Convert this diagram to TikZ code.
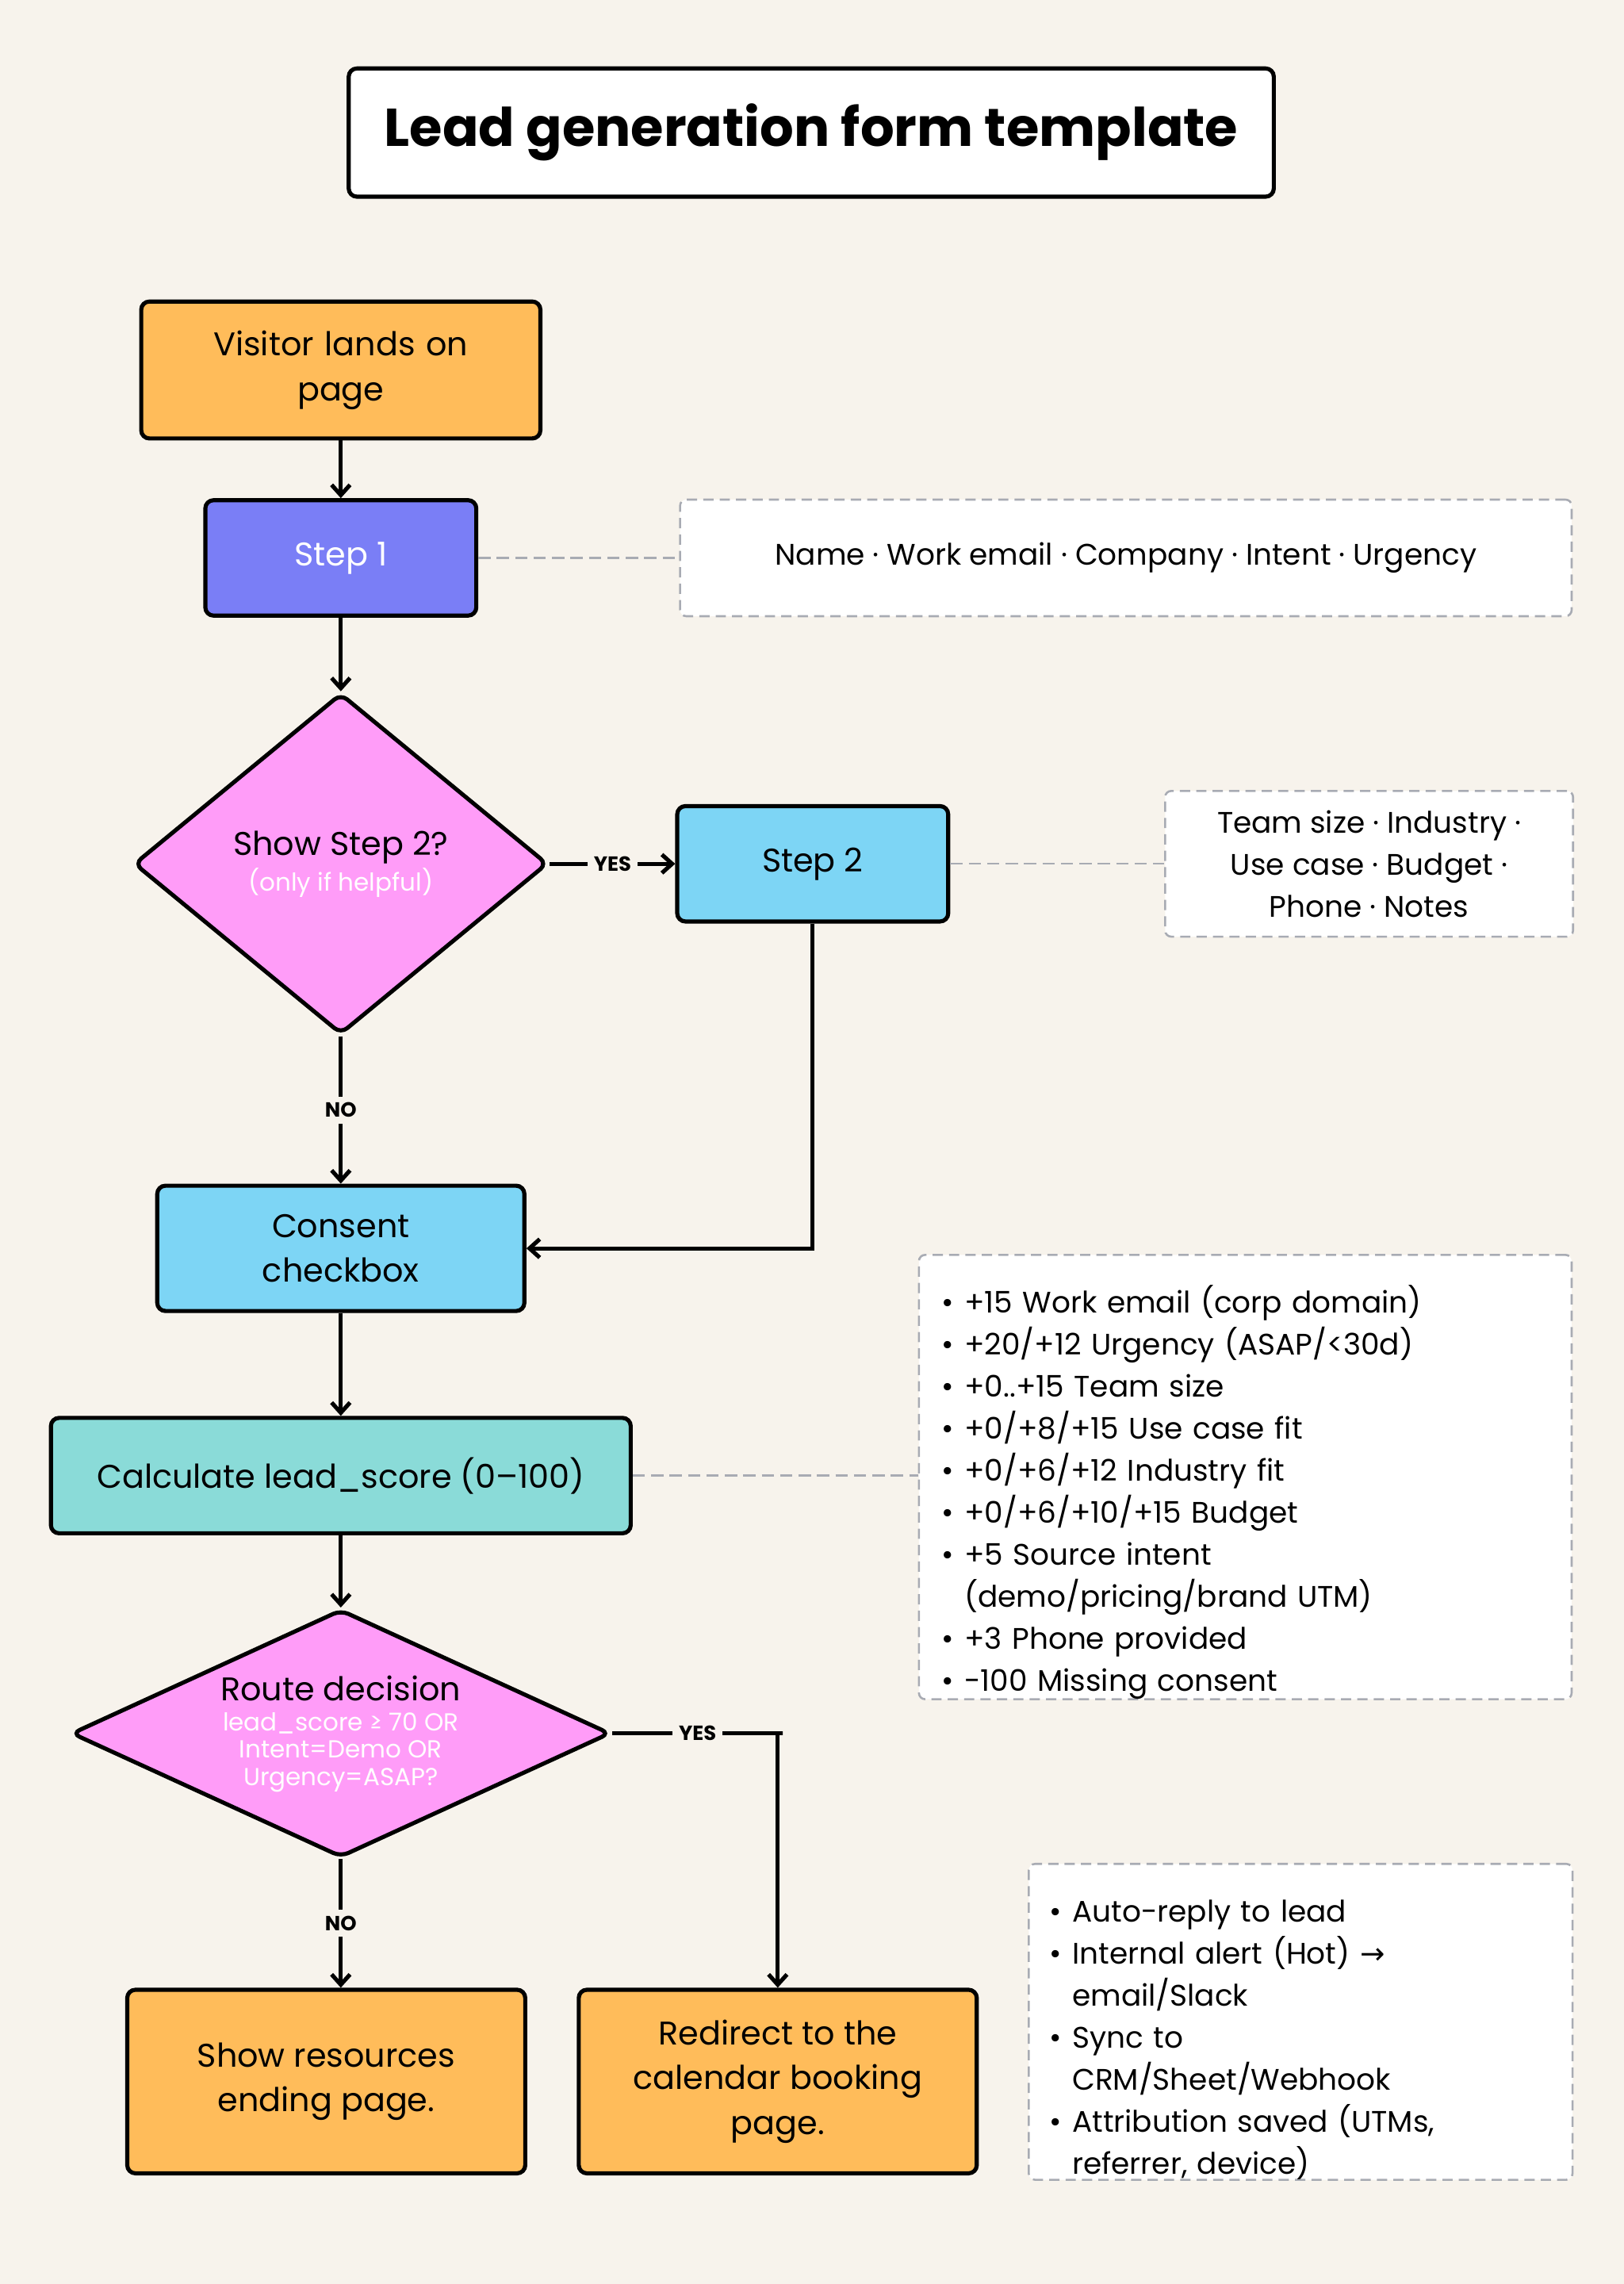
\documentclass[tikz,border=0pt]{standalone}
\usepackage{fontspec}
\setmainfont{Poppins}
\usetikzlibrary{arrows.meta,shapes.geometric,positioning}
\definecolor{paper}{HTML}{F7F3EC}
\definecolor{orangebox}{HTML}{FFBC5A}
\definecolor{purplebox}{HTML}{7A7EF6}
\definecolor{bluebox}{HTML}{7DD5F5}
\definecolor{tealbox}{HTML}{8ADBD8}
\definecolor{pinkbox}{HTML}{FF9CF8}
\definecolor{notegray}{HTML}{A8ABB3}
\setlength{\leftmargini}{0.8em}
\setlength{\itemsep}{0pt}
\newcommand{\bodyfont}{\fontsize{16}{22}\selectfont}
\newcommand{\notefont}{\fontsize{14.5}{20.5}\selectfont}
\begin{document}
\begin{tikzpicture}[
    x=0.025cm, y=-0.025cm,
    line width=2pt,
    >={Straight Barb[length=5pt,width=9pt]},
    box/.style={draw, rounded corners=4pt, align=center, font=\bodyfont, inner sep=2pt},
    note/.style={draw=notegray, dashed, dash pattern=on 5pt off 3pt, line width=1pt, fill=white, rounded corners=3pt, font=\notefont, align=left},
    link/.style={draw=notegray, dashed, dash pattern=on 6pt off 3pt, line width=1pt},
    choice/.style={diamond, draw, fill=pinkbox, inner sep=0pt, rounded corners=4pt},
    tag/.style={font=\fontsize{10}{12}\selectfont\bfseries, fill=paper, inner sep=3pt}
  ]
  \fill[paper] (0,0) rectangle (1115,1568);

  \node[box, fill=white, minimum width=15.875cm, minimum height=2.2cm, font=\fontsize{26}{30}\selectfont\bfseries] (title) at (557,91) {Lead generation form template};

  \node[box, fill=orangebox, minimum width=6.85cm, minimum height=2.35cm, text width=6cm] (visit) at (234,254) {Visitor lands on\\page};
  \node[box, fill=purplebox, text=white, minimum width=4.65cm, minimum height=1.98cm] (step1) at (234,383) {Step 1};
  \node[note, minimum width=15.3cm, minimum height=2cm, align=center] (fields1) at (773,383) {Name · Work email · Company · Intent · Urgency};

  \node[choice, minimum width=7.1cm, minimum height=5.85cm] (show2) at (234,593) {};
  \node[font=\bodyfont, align=center] at (234,582) {Show Step 2?};
  \node[font=\fontsize{12}{14}\selectfont, text=white] at (234,606) {(only if helpful)};

  \node[box, fill=bluebox, minimum width=4.65cm, minimum height=1.98cm] (step2) at (558,593) {Step 2};
  \node[note, minimum width=7cm, minimum height=2.5cm, align=center] (fields2) at (940,593) {Team size · Industry ·\\Use case · Budget ·\\Phone · Notes};

  \node[box, fill=bluebox, minimum width=6.3cm, minimum height=2.15cm] (consent) at (234,857) {Consent\\checkbox};
  \node[box, fill=tealbox, minimum width=9.95cm, minimum height=1.98cm] (score) at (234,1013) {Calculate lead\_score (0--100)};
  \node[note, minimum width=11.2cm, minimum height=7.45cm, text width=10.2cm, inner sep=0pt] (points) at (855,1014) {%
    \begin{itemize}\setlength{\itemsep}{0pt}\setlength{\parskip}{0pt}
    \item +15 Work email (corp domain)
    \item +20/+12 Urgency (ASAP/<30d)
    \item +0..+15 Team size
    \item +0/+8/+15 Use case fit
    \item +0/+6/+12 Industry fit
    \item +0/+6/+10/+15 Budget
    \item +5 Source intent\newline(demo/pricing/brand UTM)
    \item +3 Phone provided
    \item -100 Missing consent
    \end{itemize}};

  \node[choice, minimum width=9.25cm, minimum height=4.25cm] (route) at (234,1190) {};
  \node[font=\bodyfont] at (234,1159) {Route decision};
  \node[font=\fontsize{12}{13.2}\selectfont, text=white, align=center] at (234,1203) {lead\_score ≥ 70 OR\\Intent=Demo OR\\Urgency=ASAP?};

  \node[box, fill=orangebox, minimum width=6.83cm, minimum height=3.15cm] (resources) at (224,1429) {Show resources\\ending page.};
  \node[box, fill=orangebox, minimum width=6.83cm, minimum height=3.15cm] (booking) at (534,1429) {Redirect to the\\calendar booking\\page.};
  \node[note, minimum width=9.33cm, minimum height=5.35cm, text width=8.4cm, inner sep=0pt] (actions) at (893,1388) {%
    \begin{itemize}\setlength{\itemsep}{0pt}\setlength{\parskip}{0pt}
    \item Auto-reply to lead
    \item Internal alert (Hot) {\fontspec{DejaVu Sans}→}\newline email/Slack
    \item Sync to\newline CRM/Sheet/Webhook
    \item Attribution saved (UTMs,\newline referrer, device)
    \end{itemize}};

  % flow
  \draw[->] (visit) -- (step1);
  \draw[->] (step1) -- (show2.north);
  \draw[->] (show2.east) -- node[tag] {YES} (step2.west);
  \draw[->] (show2.south) -- node[tag] {NO} (consent.north);
  \draw[->] (step2.south) |- (consent.east);
  \draw[->] (consent) -- (score);
  \draw[->] (score) -- (route.north);
  \draw[->] (route.east) -- node[tag] {YES} ++(117,0) -| (booking.north);
  \draw[->] (route.south) -- node[tag] {NO} (route.south |- resources.north);

  % notes
  \draw[link] (step1.east) -- (fields1.west);
  \draw[link] (step2.east) -- (fields2.west);
  \draw[link] (score.east) -- (score.east -| points.west);
\end{tikzpicture}
\end{document}
